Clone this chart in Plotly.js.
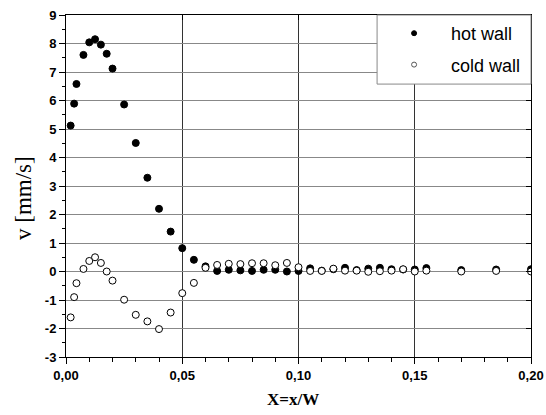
<!DOCTYPE html>
<html><head><meta charset="utf-8">
<script src="https://cdn.plot.ly/plotly-3.0.1.min.js"></script>
<style>html,body{margin:0;padding:0;background:#fff}#plot{width:546px;height:415px}</style>
</head><body><div id="plot"></div>
<script>
var xPos = [0.002,0.0035,0.0045,0.0075,0.01,0.0125,0.015,0.0175,0.02,0.025,0.03,0.035,0.04,0.045,0.05,0.055,
  0.06,0.065,0.07,0.075,0.08,0.085,0.09,0.095,0.10,0.105,0.11,0.115,0.12,0.125,0.13,0.135,0.14,0.145,0.15,0.155,0.17,0.185,0.20];
var hotWall = [5.12,5.89,6.58,7.6,8.04,8.15,7.96,7.64,7.12,5.86,4.51,3.29,2.2,1.40,0.82,0.41,
  0.18,0.02,0.06,0.04,0.02,0.06,0.06,0.0,0.02,0.11,0.03,0.08,0.13,0.05,0.1,0.13,0.08,0.07,0.07,0.12,0.05,0.07,0.08];
var coldWall = [-1.61,-0.9,-0.41,0.09,0.37,0.5,0.3,0.0,-0.32,-0.99,-1.52,-1.75,-2.02,-1.44,-0.76,-0.4,
  0.13,0.23,0.27,0.26,0.29,0.29,0.22,0.30,0.15,0.02,0.02,0.1,0.03,0.03,-0.01,0.01,0.03,0.08,0.0,0.03,0.0,0.02,0.0];
var seriesNames = ['hot wall','cold wall'];
var yTickVals = [-3,-2,-1,0,1,2,3,4,5,6,7,8,9];
var yTickText = ['-3','-2','-1','0','1','2','3','4','5','6','7','8','9'];
var xTickVals = [0,0.05,0.10,0.15,0.20];
var xTickText = ['0,00','0,05','0,10','0,15','0,20'];
var xTitle = 'X=x/W';
var yTitle = 'v [mm/s]';

var traces = [
  {x: xPos, y: hotWall, type:'scatter', mode:'markers', showlegend:false,
   marker:{size:7, color:'#000', line:{color:'#000', width:1}}},
  {x: xPos, y: coldWall, type:'scatter', mode:'markers', showlegend:false,
   marker:{size:7, color:'#fff', line:{color:'#000', width:1}}},
  {x:[null], y:[null], xaxis:'x2', yaxis:'y2', type:'scatter', mode:'markers', name: seriesNames[0], legendgroup:'a',
   marker:{size:5, color:'#000', line:{color:'#000', width:1}}},
  {x:[null], y:[null], xaxis:'x2', yaxis:'y2', type:'scatter', mode:'markers', name: seriesNames[1], legendgroup:'b',
   marker:{size:5, color:'#fff', line:{color:'#555', width:1}}}
];

var tickFont = {family:'Liberation Sans, Arial, sans-serif', size:13, color:'#000', weight:'bold'};
var serif = 'Liberation Serif, Times New Roman, serif';
var layout = {
  width:546, height:415,
  margin:{l:66, r:15, t:15, b:58},
  paper_bgcolor:'#fff', plot_bgcolor:'#fff',
  showlegend:true,
  xaxis:{range:[0,0.20], tickmode:'array', tickvals:xTickVals, ticktext:xTickText,
    ticks:'outside', ticklen:6, tickcolor:'#000', tickwidth:1,
    minor:{dtick:0.01, ticks:'outside', ticklen:4, tickcolor:'#000', showgrid:false},
    showline:true, linecolor:'#000', linewidth:1, mirror:true,
    showgrid:true, gridcolor:'#333', gridwidth:1, zeroline:false,
    tickfont:tickFont},
  yaxis:{range:[-3,9], tickmode:'array', tickvals:yTickVals, ticktext:yTickText,
    ticks:'outside', ticklen:6, tickcolor:'#000', tickwidth:1,
    minor:{dtick:0.5, ticks:'outside', ticklen:3, tickcolor:'#000', showgrid:false},
    showline:true, linecolor:'#000', linewidth:1, mirror:true,
    showgrid:true, gridcolor:'#888', gridwidth:1, zeroline:false,
    tickfont:tickFont},
  xaxis2:{overlaying:'x', side:'top', range:[0,0.20], tickvals:xTickVals, ticks:'inside', ticklen:5,
    tickcolor:'#000', showticklabels:false, showgrid:false, zeroline:false, showline:false},
  yaxis2:{overlaying:'y', side:'right', range:[-3,9], tickvals:yTickVals, ticks:'inside', ticklen:5,
    tickcolor:'#000', showticklabels:false, showgrid:false, zeroline:false, showline:false},
  annotations:[
    {text:'<b>'+xTitle+'</b>', xref:'paper', yref:'paper', x:(293-66)/465, y:-(399-357)/342,
     xanchor:'center', yanchor:'middle', showarrow:false, font:{family:serif, size:17, color:'#000'}},
    {text:yTitle, xref:'paper', yref:'paper', x:-(66-23)/465, y:1-(198-15)/342, textangle:-90,
     xanchor:'center', yanchor:'middle', showarrow:false, font:{family:serif, size:23, color:'#000'}}
  ],
  shapes:[{type:'rect', xref:'paper', yref:'paper', x0:0.669, x1:1, y0:0.798, y1:1,
    fillcolor:'#fff', line:{color:'#888', width:1}, layer:'above'}],
  legend:{x:0.669, y:1, xanchor:'left', yanchor:'top', bgcolor:'rgba(0,0,0,0)', borderwidth:0,
    font:{family:'Liberation Sans, Arial, sans-serif', size:18, color:'#000'},
    traceorder:'grouped', tracegroupgap:5, itemwidth:64}
};
Plotly.newPlot('plot', traces, layout, {displayModeBar:false, staticPlot:true});
</script></body></html>
